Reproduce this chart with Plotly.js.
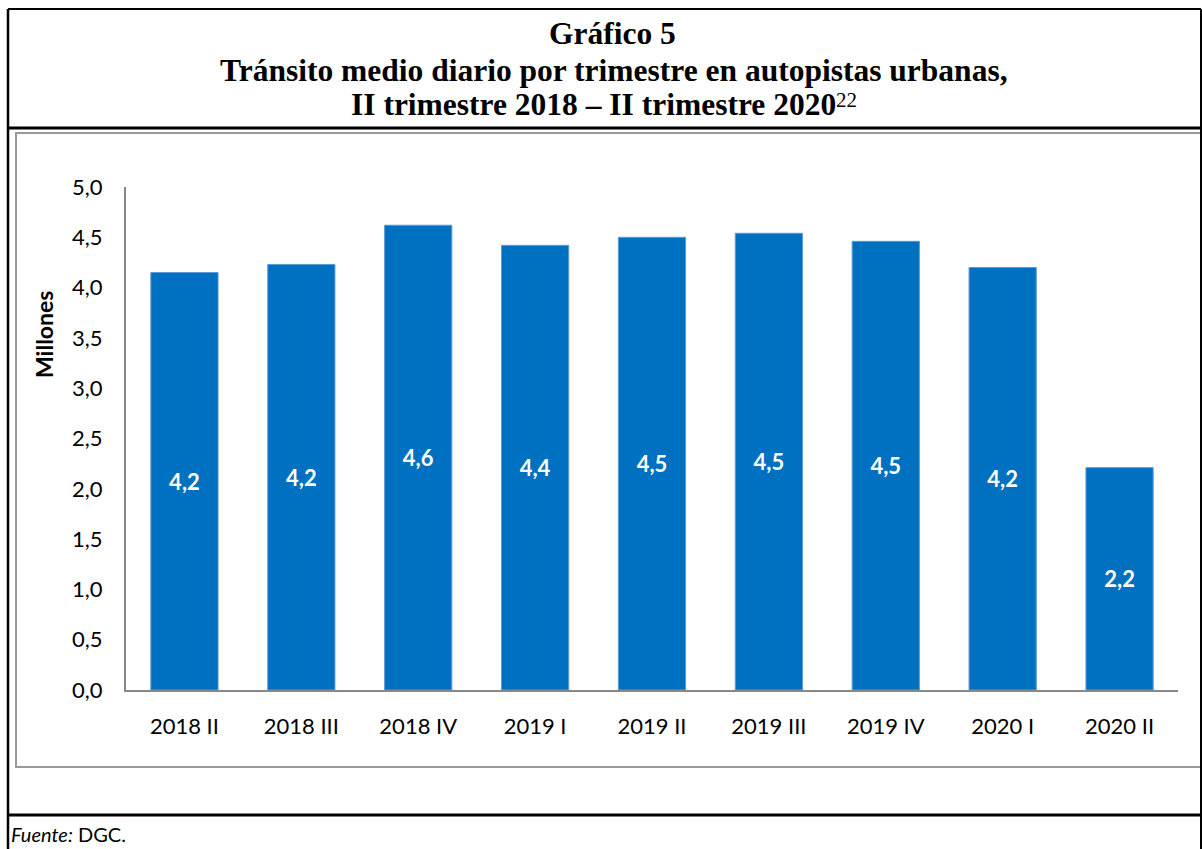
<!DOCTYPE html>
<html>
<head>
<meta charset="utf-8">
<script src="https://cdn.plot.ly/plotly-3.0.1.min.js"></script>
<style>
html,body{margin:0;padding:0;background:#fff;}
#chart{width:1202px;height:849px;}
</style>
</head>
<body>
<div id="chart"></div>
<script>
const categories = ["2018 II","2018 III","2018 IV","2019 I","2019 II","2019 III","2019 IV","2020 I","2020 II"];
const values = [4.15, 4.23, 4.62, 4.42, 4.50, 4.54, 4.46, 4.20, 2.21];
const labels = ["4,2","4,2","4,6","4,4","4,5","4,5","4,5","4,2","2,2"];
const yTickVals = [0,0.5,1,1.5,2,2.5,3,3.5,4,4.5,5];
const yTickText = ["0,0","0,5","1,0","1,5","2,0","2,5","3,0","3,5","4,0","4,5","5,0"];

const W = 1202, H = 849;
const L = 126, R = 1178, T = 187, B = 690;
const pw = R - L, ph = B - T;
const px = x => (x - L) / pw;
const py = y => (B - y) / ph;

function line(x0,y0,x1,y1,color,width){
  return {type:'line', xref:'paper', yref:'paper', x0:px(x0), y0:py(y0), x1:px(x1), y1:py(y1),
          line:{color:color,width:width}, layer:'above'};
}

const shapes = [
  line(8,9,1201,9,'#000',2),
  line(8,9,8,849,'#000',2.5),
  line(1201,9,1201,849,'#000',2),
  line(8,128,1201,128,'#000',3),
  line(8,815,1201,815,'#000',3),
  {type:'rect', xref:'paper', yref:'paper', x0:px(16), y0:py(133), x1:px(1201), y1:py(767),
   line:{color:'#999999',width:2}, fillcolor:'rgba(0,0,0,0)', layer:'below'}
];

const titleFont = {family:'Liberation Serif', size:31.5, color:'#000'};
const annotations = [
  {xref:'paper', yref:'paper', x:px(612), y:py(33), text:'<b>Gráfico 5</b>', showarrow:false,
   font:titleFont, xanchor:'center', yanchor:'middle'},
  {xref:'paper', yref:'paper', x:px(614), y:py(70), text:'<b>Tránsito medio diario por trimestre en autopistas urbanas,</b>', showarrow:false,
   font:titleFont, xanchor:'center', yanchor:'middle'},
  {xref:'paper', yref:'paper', x:px(838), y:py(104), text:'<b>II trimestre 2018 – II trimestre 2020</b>', showarrow:false,
   font:titleFont, xanchor:'right', yanchor:'middle'},
  {xref:'paper', yref:'paper', x:px(834), y:py(100), text:'22', showarrow:false,
   font:{family:'Liberation Serif', size:21, color:'#000'}, xanchor:'left', yanchor:'middle'},
  {xref:'paper', yref:'paper', x:px(44), y:py(335), text:'<b>Millones</b>', showarrow:false, textangle:-90,
   font:{family:'Lato', size:23, color:'#000'}, xanchor:'center', yanchor:'middle'},
  {xref:'paper', yref:'paper', x:px(9), y:py(834), text:'<i>Fuente:</i> DGC.', showarrow:false,
   font:{family:'Lato', size:20, color:'#000'}, xanchor:'left', yanchor:'middle'}
];

const trace = {
  type:'bar', x:categories, y:values, text:labels,
  textposition:'inside', insidetextanchor:'middle', constraintext:'none',
  textfont:{family:'Lato', size:22, color:'#ffffff'},
  texttemplate:'<b>%{text}</b>',
  marker:{color:'#0070C0', line:{color:'#5B9BD5', width:1}},
  hoverinfo:'skip'
};

const layout = {
  width:W, height:H,
  margin:{l:L, r:W-R, t:T, b:H-B, pad:0},
  paper_bgcolor:'#fff', plot_bgcolor:'#fff',
  showlegend:false,
  bargap:0.425,
  font:{family:'Lato', size:22, color:'#000'},
  xaxis:{type:'category', showline:true, linecolor:'#888888', linewidth:2,
         ticks:'', showgrid:false, zeroline:false, tickfont:{family:'Lato', size:22, color:'#000'}, ticklabelstandoff:16},
  yaxis:{range:[0,5], tickvals:yTickVals, ticktext:yTickText, showline:true, linecolor:'#888888', linewidth:2,
         ticks:'', showgrid:false, zeroline:false, tickfont:{family:'Lato', size:22, color:'#000'},
         ticklabelstandoff:17},
  shapes:shapes,
  annotations:annotations
};

Plotly.newPlot('chart',[trace],layout,{displayModeBar:false, staticPlot:true});
</script>
</body>
</html>
